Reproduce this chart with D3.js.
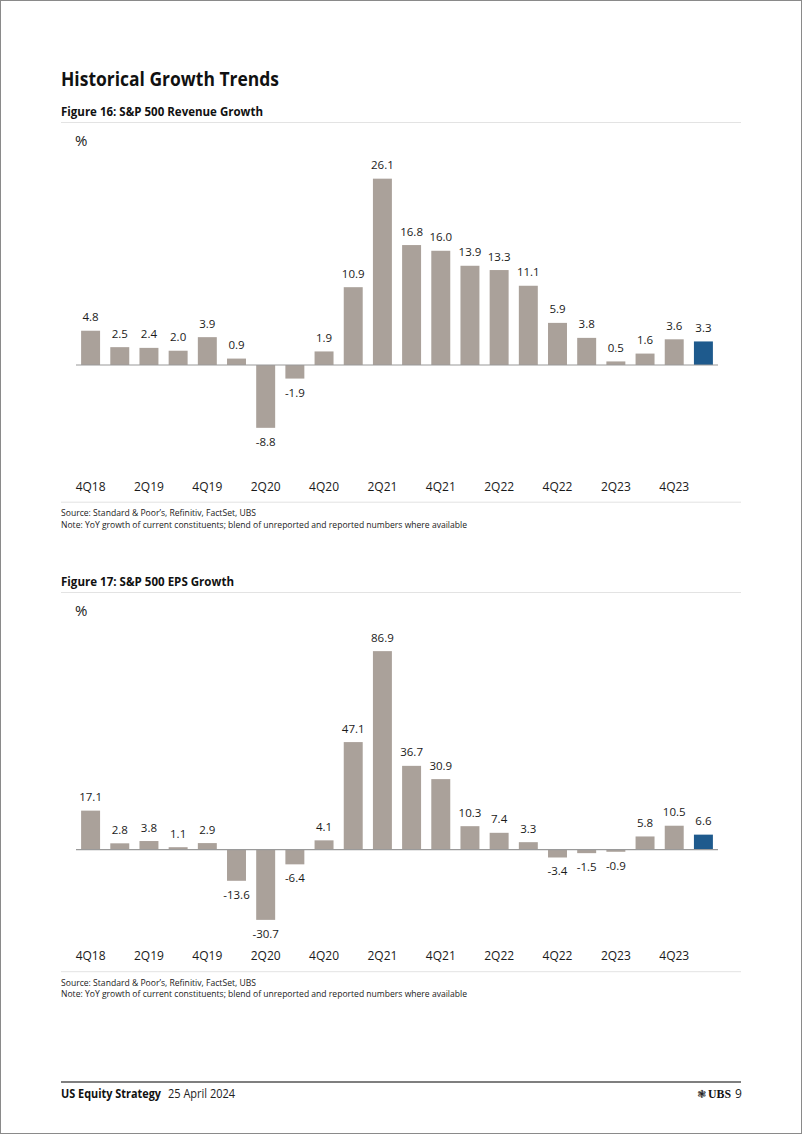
<!DOCTYPE html>
<html>
<head>
<meta charset="utf-8">
<script src="https://cdn.jsdelivr.net/npm/d3@7"></script>
<style>
  html, body { margin: 0; padding: 0; background: #fff; }
  svg { display: block; font-family: "Open Sans", "Noto Sans", sans-serif; }
</style>
</head>
<body>
<svg id="page" width="802" height="1134"></svg>
<script>
// quarters on the x axis
const quarters = ["4Q18","1Q19","2Q19","3Q19","4Q19","1Q20","2Q20","3Q20","4Q20","1Q21","2Q21","3Q21",
                  "4Q21","1Q22","2Q22","3Q22","4Q22","1Q23","2Q23","3Q23","4Q23","1Q24"];
const tickLabels = ["4Q18","2Q19","4Q19","2Q20","4Q20","2Q21","4Q21","2Q22","4Q22","2Q23","4Q23"];
// Figure 16 - revenue growth, %
const revenueGrowth = [4.8,2.5,2.4,2.0,3.9,0.9,-8.8,-1.9,1.9,10.9,26.1,16.8,16.0,13.9,13.3,11.1,5.9,3.8,0.5,1.6,3.6,3.3];
// Figure 17 - EPS growth, %
const epsGrowth = [17.1,2.8,3.8,1.1,2.9,-13.6,-30.7,-6.4,4.1,47.1,86.9,36.7,30.9,10.3,7.4,3.3,-3.4,-1.5,-0.9,5.8,10.5,6.6];

const barColor = "#aaa19a";
const lastColor = "#1e5a8d";
const textColor = "#1a1a1a";
const sourceText = "Source: Standard & Poor\u2019s, Refinitiv, FactSet, UBS";
const noteText = "Note: YoY growth of current constituents; blend of unreported and reported numbers where available";

const svg = d3.select("#page");

// page frame
svg.append("rect").attr("x", 0.5).attr("y", 0.5).attr("width", 801).attr("height", 1133)
    .attr("fill", "none").attr("stroke", "#8a8a8a").attr("stroke-width", 1);

svg.append("text").attr("x", 61).attr("y", 86)
    .attr("font-size", 20).attr("font-weight", 700).attr("fill", "#111")
    .attr("textLength", 218).attr("lengthAdjust", "spacingAndGlyphs")
    .text("Historical Growth Trends");

function drawChart(cfg) {
    let g = svg.append("g");

    // figure title + rules
    g.append("text").attr("x", 61).attr("y", cfg.top)
        .attr("font-size", 12.5).attr("font-weight", 700).attr("fill", "#111")
        .attr("textLength", cfg.titleLen).attr("lengthAdjust", "spacingAndGlyphs")
        .text(cfg.title);
    g.append("line").attr("x1", 61).attr("x2", 741).attr("y1", cfg.top + 6.5).attr("y2", cfg.top + 6.5)
        .attr("stroke", "#e3e3e3").attr("stroke-width", 1);
    g.append("text").attr("x", 75).attr("y", cfg.top + 30)
        .attr("font-size", 15).attr("fill", textColor).text("%");

    let x = d3.scaleBand().domain(quarters).range([76, 718])
        .paddingInner(0.35).paddingOuter(0.175);
    let y = d3.scaleLinear().domain(cfg.domain).range(cfg.range);

    let data = cfg.values.map((v, i) => ({q: quarters[i], v: v, last: i === quarters.length - 1}));

    g.selectAll("rect.bar").data(data).enter().append("rect")
        .attr("class", "bar")
        .attr("x", d => x(d.q))
        .attr("width", x.bandwidth())
        .attr("y", d => y(Math.max(0, d.v)))
        .attr("height", d => Math.abs(y(d.v) - y(0)))
        .attr("fill", d => d.last ? lastColor : barColor);

    // zero line
    g.append("line").attr("x1", 76).attr("x2", 718).attr("y1", y(0)).attr("y2", y(0))
        .attr("stroke", "#9a9a9a").attr("stroke-width", 1.2);

    g.selectAll("text.val").data(data).enter().append("text")
        .attr("class", "val")
        .attr("x", d => x(d.q) + x.bandwidth() / 2)
        .attr("y", d => d.v >= 0 ? y(d.v) - 9.5 : y(d.v) + 18)
        .attr("text-anchor", "middle")
        .attr("font-size", 11.5).attr("fill", textColor)
        .text(d => d.v.toFixed(1));

    // category axis, every other quarter labelled
    let xAxis = d3.axisBottom(x).tickValues(tickLabels).tickSize(0).tickPadding(0);
    let ax = g.append("g").attr("transform", `translate(0,${cfg.axisY})`).call(xAxis);
    ax.select(".domain").remove();
    ax.selectAll("text").attr("font-size", 12).attr("fill", textColor)
        .attr("font-family", "\"Open Sans\", \"Noto Sans\", sans-serif").attr("dy", 0);

    g.append("line").attr("x1", 61).attr("x2", 741).attr("y1", cfg.axisY + 11.7).attr("y2", cfg.axisY + 11.7)
        .attr("stroke", "#e3e3e3").attr("stroke-width", 1);
    g.append("text").attr("x", 61).attr("y", cfg.axisY + 25.5)
        .attr("font-size", 8.5).attr("fill", "#222")
        .attr("textLength", 195).attr("lengthAdjust", "spacingAndGlyphs").text(sourceText);
    g.append("text").attr("x", 61).attr("y", cfg.axisY + 37)
        .attr("font-size", 8.5).attr("fill", "#222")
        .attr("textLength", 406).attr("lengthAdjust", "spacingAndGlyphs").text(noteText);
}

drawChart({
    title: "Figure 16: S&P 500 Revenue Growth", titleLen: 202, top: 116,
    values: revenueGrowth, domain: [-10, 28], range: [436.4, 165.1], axisY: 490.5
});
drawChart({
    title: "Figure 17: S&P 500 EPS Growth", titleLen: 173, top: 586,
    values: epsGrowth, domain: [-35, 90], range: [929.7, 644.05], axisY: 960
});

// footer
svg.append("line").attr("x1", 61).attr("x2", 741).attr("y1", 1082).attr("y2", 1082)
    .attr("stroke", "#555").attr("stroke-width", 1.5);
svg.append("text").attr("x", 61).attr("y", 1097.5)
    .attr("font-size", 12).attr("font-weight", 700).attr("fill", "#111")
    .attr("textLength", 100).attr("lengthAdjust", "spacingAndGlyphs").text("US Equity Strategy");
svg.append("text").attr("x", 168).attr("y", 1097.5)
    .attr("font-size", 12).attr("fill", "#222")
    .attr("textLength", 67).attr("lengthAdjust", "spacingAndGlyphs").text("25 April 2024");
svg.append("text").attr("x", 697).attr("y", 1097.5)
    .attr("font-size", 11).attr("font-family", "DejaVu Sans").attr("fill", "#222").text("\u2743");
svg.append("text").attr("x", 708).attr("y", 1097.5)
    .attr("font-size", 11.5).attr("font-weight", 700).attr("font-family", "\"Liberation Serif\", serif")
    .attr("fill", "#111").attr("textLength", 23).attr("lengthAdjust", "spacingAndGlyphs").text("UBS");
svg.append("text").attr("x", 735).attr("y", 1097.5)
    .attr("font-size", 12).attr("fill", "#222").text("9");
</script>
</body>
</html>
